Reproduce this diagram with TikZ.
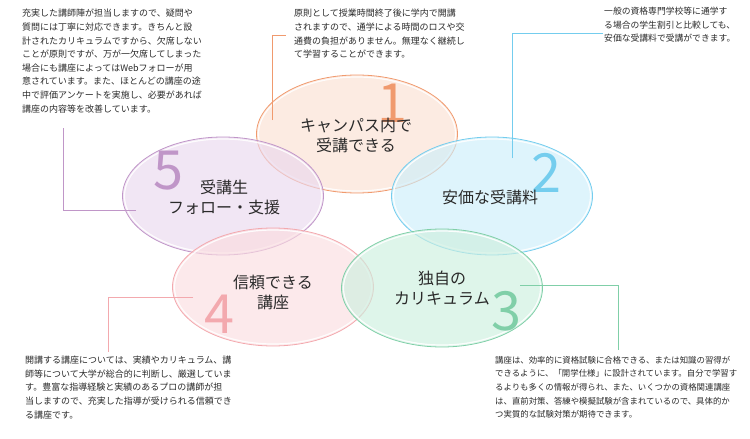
\documentclass[tikz,border=0pt]{standalone}
\usepackage{fontspec}
\setmainfont{Noto Sans CJK JP}
\usetikzlibrary{shapes.geometric}
\usetikzlibrary{positioning}
\definecolor{txtgray}{HTML}{2A2A2A}
\definecolor{cOne}{HTML}{F09A6E}
\definecolor{fOne}{HTML}{FBE0D2}
\definecolor{cTwo}{HTML}{74CDEE}
\definecolor{fTwo}{HTML}{CDEEFA}
\definecolor{cThree}{HTML}{80CFA8}
\definecolor{fThree}{HTML}{CDEFDF}
\definecolor{cFour}{HTML}{F3A9AE}
\definecolor{fFour}{HTML}{FBDDE0}
\definecolor{cFive}{HTML}{C096C8}
\definecolor{fFive}{HTML}{EAD8EE}
\newcommand{\bubble}[4]{%
  \node[bubble, draw=#3, fill=#4] (#1) at (#2) {};
  \node[bubble ring] at (#2) {};}
\begin{document}
\begin{tikzpicture}[x=1pt, y=-1pt,
	bubble/.style={ellipse, minimum width=201pt, minimum height=118pt,
		line width=0.8pt, fill opacity=0.65},
	bubble ring/.style={ellipse, minimum width=197pt, minimum height=114pt,
		draw=white, line width=1.2pt, draw opacity=0.9},
	bignum/.style={font=\fontsize{54}{54}\selectfont, inner sep=0pt},
	title/.style={font=\fontsize{16}{20}\selectfont, align=center, text=txtgray, inner sep=0pt},
	memo/.style={font=\fontsize{9}{13.6}\selectfont, align=left, text=txtgray,
		anchor=north west, inner sep=0pt},
	lead/.style={line width=0.6pt}]
	\useasboundingbox (0,0) rectangle (750,439);
	%% Bubbles
	\bubble{one}{357,134}{cOne}{fOne}
	\bubble{two}{492,196}{cTwo}{fTwo}
	\bubble{five}{223,196}{cFive}{fFive}
	\bubble{four}{273,287}{cFour}{fFour}
	\bubble{three}{442,288}{cThree}{fThree}
	%% Numbers
	\node[bignum, text=cOne] (n1) at (392,103) {1};
	\node[bignum, text=cTwo] (n2) at (546,173) {2};
	\node[bignum, text=cFive] (n5) at (168,171) {5};
	\node[bignum, text=cFour] (n4) at (219,314) {4};
	\node[bignum, text=cThree] (n3) at (506,311) {3};
	%% Titles
	\node[title] (t1) at (356,135) {キャンパス内で\\受講できる};
	\node[title] (t2) at (490,197) {安価な受講料};
	\node[title] (t5) at (224,197) {受講生\\フォロー・支援};
	\node[title] (t4) at (273,292) {信頼できる\\講座};
	\node[title] (t3) at (442,288) {独自の\\カリキュラム};
	%% Notes
	\node[memo] (m5) at (22,9) {充実した講師陣が担当しますので、疑問や\\質問には丁寧に対応できます。きちんと設\\計されたカリキュラムですから、欠席しない\\ことが原則ですが、万が一欠席してしまった\\場合にも講座によってはWebフォローが用\\意されています。また、ほとんどの講座の途\\中で評価アンケートを実施し、必要があれば\\講座の内容等を改善しています。};
	\node[memo] (m1) at (294,9) {原則として授業時間終了後に学内で開講\\されますので、通学による時間のロスや交\\通費の負担がありません。無理なく継続し\\て学習することができます。};
	\node[memo, font=\fontsize{8.8}{13.6}\selectfont] (m2) at (604,7) {一般の資格専門学校等に通学す\\る場合の学生割引と比較しても、\\安価な受講料で受講ができます。};
	\node[memo] (m4) at (25,356) {開講する講座については、実績やカリキュラム、講\\師等について大学が総合的に判断し、厳選していま\\す。豊富な指導経験と実績のあるプロの講師が担\\当しますので、充実した指導が受けられる信頼でき\\る講座です。};
	\node[memo, font=\fontsize{8.4}{13.6}\selectfont] (m3) at (495,356) {講座は、効率的に資格試験に合格できる、または知識の習得が\\できるように、「開学仕様」に設計されています。自分で学習す\\るよりも多くの情報が得られ、また、いくつかの資格関連講座\\は、直前対策、答練や模擬試験が含まれているので、具体的か\\つ実質的な試験対策が期待できます。};
	%% Leaders
	\coordinate (a1) at (272,120); \coordinate (b1) at (286,35);
	\coordinate (a2) at (512,158); \coordinate (b2) at (603,33);
	\coordinate (a5) at (136,210); \coordinate (b5) at (63,128);
	\coordinate (a4) at (193,297); \coordinate (b4) at (108,352);
	\coordinate (a3) at (520,285); \coordinate (b3) at (618,350);
	\draw[lead, cOne] (a1) |- (b1);
	\draw[lead, cTwo] (a2) |- (b2);
	\draw[lead, cFive] (a5) -| (b5);
	\draw[lead, cFour] (a4) -| (b4);
	\draw[lead, cThree] (a3) -| (b3);
\end{tikzpicture}
\end{document}
